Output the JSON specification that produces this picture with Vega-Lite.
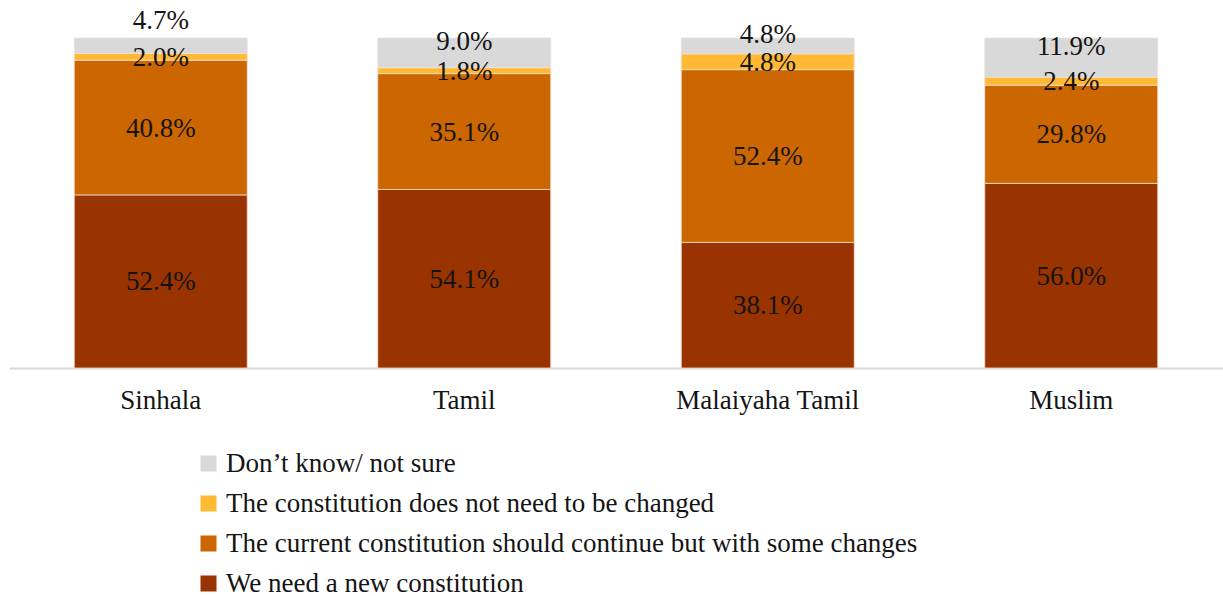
{
  "$schema": "https://vega.github.io/schema/vega-lite/v6.json",
  "width": 1214,
  "height": 330,
  "autosize": {"type": "none"},
  "padding": {"left": 9, "top": 38, "right": 0, "bottom": 228},
  "background": "white",
  "config": {
    "view": {"stroke": null},
    "font": "Liberation Serif",
    "text": {"font": "Liberation Serif"}
  },
  "data": {
    "values": [
      {"group": "Sinhala", "series": "We need a new constitution", "value": 0.524},
      {"group": "Sinhala", "series": "The current constitution should continue but with some changes", "value": 0.408},
      {"group": "Sinhala", "series": "The constitution does not need to be changed", "value": 0.020},
      {"group": "Sinhala", "series": "Don’t know/ not sure", "value": 0.047},
      {"group": "Tamil", "series": "We need a new constitution", "value": 0.541},
      {"group": "Tamil", "series": "The current constitution should continue but with some changes", "value": 0.351},
      {"group": "Tamil", "series": "The constitution does not need to be changed", "value": 0.018},
      {"group": "Tamil", "series": "Don’t know/ not sure", "value": 0.090},
      {"group": "Malaiyaha Tamil", "series": "We need a new constitution", "value": 0.381},
      {"group": "Malaiyaha Tamil", "series": "The current constitution should continue but with some changes", "value": 0.524},
      {"group": "Malaiyaha Tamil", "series": "The constitution does not need to be changed", "value": 0.048},
      {"group": "Malaiyaha Tamil", "series": "Don’t know/ not sure", "value": 0.048},
      {"group": "Muslim", "series": "We need a new constitution", "value": 0.560},
      {"group": "Muslim", "series": "The current constitution should continue but with some changes", "value": 0.298},
      {"group": "Muslim", "series": "The constitution does not need to be changed", "value": 0.024},
      {"group": "Muslim", "series": "Don’t know/ not sure", "value": 0.119}
    ]
  },
  "transform": [
    {"calculate": "indexof(['We need a new constitution','The current constitution should continue but with some changes','The constitution does not need to be changed','Don’t know/ not sure'], datum.series)", "as": "rank"},
    {"stack": "value", "groupby": ["group"], "sort": [{"field": "rank", "order": "ascending"}], "offset": "normalize", "as": ["y0", "y1"]},
    {"calculate": "(datum.y0 + datum.y1) / 2", "as": "ymid"}
  ],
  "encoding": {
    "x": {
      "field": "group",
      "type": "nominal",
      "sort": ["Sinhala", "Tamil", "Malaiyaha Tamil", "Muslim"],
      "scale": {"paddingInner": 0.43, "paddingOuter": 0.215},
      "axis": {
        "title": null,
        "labelAngle": 0,
        "labelFont": "Liberation Serif",
        "labelFontSize": 27,
        "labelColor": "#141414",
        "labelPadding": 19,
        "labelLimit": 500,
        "ticks": false,
        "domainColor": "#D9D9D9",
        "domainWidth": 2
      }
    }
  },
  "layer": [
    {
      "mark": {"type": "bar", "stroke": "#f4e0d0", "strokeWidth": 0.8},
      "encoding": {
        "y": {"field": "y0", "type": "quantitative", "scale": {"domain": [0, 1]}, "axis": null},
        "y2": {"field": "y1"},
        "color": {
          "field": "series",
          "type": "nominal",
          "scale": {
            "domain": ["Don’t know/ not sure", "The constitution does not need to be changed", "The current constitution should continue but with some changes", "We need a new constitution"],
            "range": ["#D9D9D9", "#FFB933", "#CC6600", "#993300"]
          },
          "legend": {
            "title": null,
            "orient": "none",
            "legendX": 186,
            "legendY": 412,
            "padding": 0,
            "symbolType": "square",
            "symbolSize": 256,
            "symbolStrokeWidth": 0,
            "labelFont": "Liberation Serif",
            "labelFontSize": 27,
            "labelColor": "#141414",
            "labelOffset": 4,
            "rowPadding": 12,
            "labelLimit": 1000
          }
        }
      }
    },
    {
      "transform": [{"filter": "datum.rank < 3"}],
      "mark": {"type": "text", "fontSize": 27, "color": "#141414", "baseline": "middle", "dy": 1},
      "encoding": {
        "y": {"field": "ymid", "type": "quantitative"},
        "text": {"field": "value", "type": "quantitative", "format": ".1%"}
      }
    },
    {
      "transform": [{"filter": "datum.rank == 3 && datum.group !== 'Sinhala'"}],
      "mark": {"type": "text", "fontSize": 27, "color": "#141414", "baseline": "middle", "dy": -11},
      "encoding": {
        "y": {"field": "ymid", "type": "quantitative"},
        "text": {"field": "value", "type": "quantitative", "format": ".1%"}
      }
    },
    {
      "transform": [{"filter": "datum.rank == 3 && datum.group === 'Sinhala'"}],
      "mark": {"type": "text", "fontSize": 27, "color": "#141414", "baseline": "middle", "dy": -25},
      "encoding": {
        "y": {"field": "ymid", "type": "quantitative"},
        "text": {"field": "value", "type": "quantitative", "format": ".1%"}
      }
    }
  ]
}
